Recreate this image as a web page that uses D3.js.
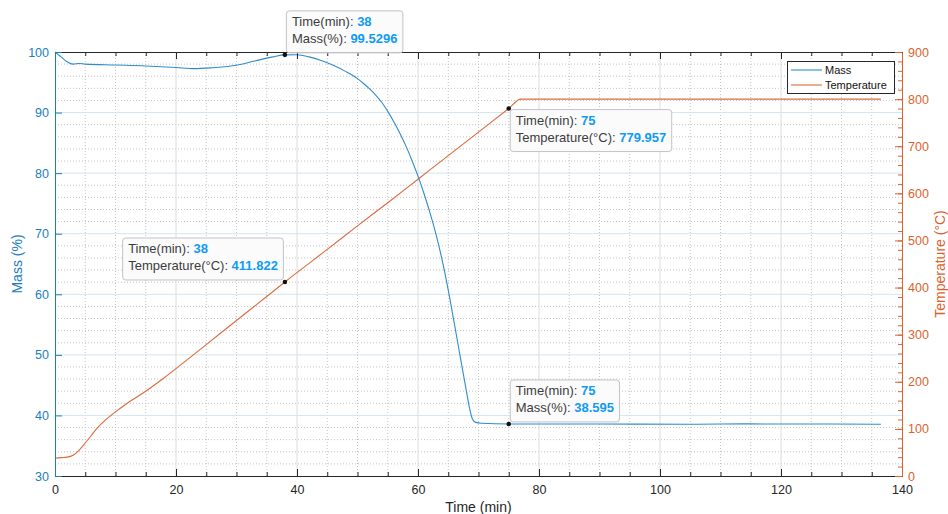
<!DOCTYPE html>
<html>
<head>
<meta charset="utf-8">
<script src="https://cdn.jsdelivr.net/npm/d3@7"></script>
<style>
body { margin: 0; background: #fff; }
svg { font-family: "Liberation Sans", Arial, Helvetica, sans-serif; }
</style>
</head>
<body>
<svg id="chart" width="948" height="514"></svg>
<script>

/* mass curve */
var mass_time = [0, 0.5, 1, 2, 3, 4, 5, 10, 15, 20, 23, 26, 30, 33, 36, 38, 40, 42, 44, 46, 48, 50, 51, 52, 53, 54, 55, 56, 57, 58, 59, 60, 61, 62, 63, 64, 65, 66, 67, 68, 68.5, 69, 69.5, 70.5, 75, 90, 105, 115, 136.5];
var mass_values = [100, 99.6, 99.2, 98.4, 98.0, 98.1, 98.0, 97.85, 97.7, 97.45, 97.25, 97.4, 97.8, 98.5, 99.2, 99.53, 99.55, 99.2, 98.6, 97.8, 96.8, 95.6, 94.8, 93.9, 92.9, 91.7, 90.2, 88.5, 86.6, 84.5, 82.1, 79.5, 76.6, 73.4, 69.8, 65.6, 60.7, 55.2, 49.6, 44.0, 41.3, 39.4, 38.85, 38.7, 38.595, 38.58, 38.55, 38.6, 38.55];

/* temperature curve */
var temp_time = [0, 1, 2, 3, 4, 5, 6, 7, 8, 9, 10, 12, 15, 18, 20, 25, 30, 35, 38, 45, 50, 55, 60, 65, 70, 75, 77, 136.5];
var temp_values = [38, 39, 40, 44, 55, 70, 86, 102, 115, 126, 136, 155, 180, 208, 228, 279, 330, 381, 411.822, 481, 531, 580, 630, 680, 730, 779.957, 800, 800];

var x_ticks = [0, 20, 40, 60, 80, 100, 120, 140];
var mass_ticks = [30, 40, 50, 60, 70, 80, 90, 100];
var temp_ticks = [0, 100, 200, 300, 400, 500, 600, 700, 800, 900];

var series_names = ["Mass", "Temperature"];

/* data tips */
var tip_series = ["Mass", "Temperature", "Temperature", "Mass"];
var tip_times = [38, 75, 38, 75];
var tip_values = ["99.5296", "779.957", "411.822", "38.595"];
var tip_labels = ["Mass(%)", "Temperature(°C)", "Temperature(°C)", "Mass(%)"];

var blue = "#1a7ec0";
var blue_line = "#2f8ccb";
var orange = "#db6330";
var orange_line = "#dd6a3c";
var axis_grey = "#262626";

var margin = {top: 52, right: 46, bottom: 38, left: 55};
var width = 948 - margin.left - margin.right;
var height = 514 - margin.top - margin.bottom;

var svg = d3.select("#chart")
	.append("g")
	.attr("transform", "translate(" + margin.left + "," + margin.top + ")");

var x = d3.scaleLinear().domain([0, 140]).range([0, width]);
var yL = d3.scaleLinear().domain([30, 100]).range([height, 0]);
var yR = d3.scaleLinear().domain([0, 900]).range([height, 0]);

/* grid: minor dotted first, then major */
var minor_x = d3.range(0, 141, 5).filter(function(d){ return d % 20 != 0; });
var minor_y = d3.range(30, 101, 2).filter(function(d){ return d % 10 != 0; });

svg.append("g").selectAll("line")
	.data(minor_x).enter().append("line")
	.attr("x1", function(d){ return x(d); }).attr("x2", function(d){ return x(d); })
	.attr("y1", 0).attr("y2", height)
	.attr("stroke", "#c4c4c4").attr("stroke-dasharray", "1,2");

svg.append("g").selectAll("line")
	.data(minor_y).enter().append("line")
	.attr("y1", function(d){ return yL(d); }).attr("y2", function(d){ return yL(d); })
	.attr("x1", 0).attr("x2", width)
	.attr("stroke", "#c4c4c4").attr("stroke-dasharray", "1,2");

svg.append("g").selectAll("line")
	.data(x_ticks.slice(1, -1)).enter().append("line")
	.attr("x1", function(d){ return x(d); }).attr("x2", function(d){ return x(d); })
	.attr("y1", 0).attr("y2", height)
	.attr("stroke", "#dcdcdc");

svg.append("g").selectAll("line")
	.data(mass_ticks.slice(1, -1)).enter().append("line")
	.attr("y1", function(d){ return yL(d); }).attr("y2", function(d){ return yL(d); })
	.attr("x1", 0).attr("x2", width)
	.attr("stroke", "#d3e5f2");

/* lines */
var mass_data = mass_time.map(function(t, i){ return {t: t, v: mass_values[i]}; });
var temp_data = temp_time.map(function(t, i){ return {t: t, v: temp_values[i]}; });

var massLine = d3.line()
	.x(function(d){ return x(d.t); })
	.y(function(d){ return yL(d.v); })
	.curve(d3.curveMonotoneX);

var tempLine = d3.line()
	.x(function(d){ return x(d.t); })
	.y(function(d){ return yR(d.v); })
	.curve(d3.curveMonotoneX);

svg.append("path").datum(temp_data)
	.attr("d", tempLine).attr("fill", "none")
	.attr("stroke", orange_line).attr("stroke-width", 1.1);

svg.append("path").datum(mass_data)
	.attr("d", massLine).attr("fill", "none")
	.attr("stroke", blue_line).attr("stroke-width", 1.1);

/* axes */
function styleAxis(g, color){
	g.selectAll("path.domain").attr("stroke", color);
	g.selectAll(".tick line").attr("stroke", color);
	g.selectAll("text").attr("fill", color).style("font-size", "12.5px")
		.style("font-family", "'Liberation Sans', Arial, sans-serif");
}

var minor_top = d3.range(0, 141, 5);
var minor_right = d3.range(0, 901, 20);

/* minor ticks */
svg.append("g").attr("transform", "translate(0," + height + ")")
	.call(d3.axisBottom(x).tickValues(minor_top).tickSizeInner(-4).tickSizeOuter(0).tickFormat(""))
	.call(styleAxis, axis_grey);
svg.append("g")
	.call(d3.axisTop(x).tickValues(minor_top).tickSizeInner(-4).tickSizeOuter(0).tickFormat(""))
	.call(styleAxis, axis_grey);
svg.append("g").attr("transform", "translate(" + width + ",0)")
	.call(d3.axisRight(yR).tickValues(minor_right).tickSizeInner(-4).tickSizeOuter(0).tickFormat(""))
	.call(styleAxis, orange);

/* major ticks */
svg.append("g").attr("transform", "translate(0," + height + ")")
	.call(d3.axisBottom(x).tickValues(x_ticks).tickSizeInner(-7).tickSizeOuter(0).tickPadding(9))
	.call(styleAxis, axis_grey);
svg.append("g")
	.call(d3.axisTop(x).tickValues(x_ticks).tickSizeInner(-7).tickSizeOuter(0).tickFormat(""))
	.call(styleAxis, axis_grey);
svg.append("g")
	.call(d3.axisLeft(yL).tickValues(mass_ticks).tickSizeInner(-7).tickSizeOuter(0).tickPadding(6))
	.call(styleAxis, blue);
svg.append("g").attr("transform", "translate(" + width + ",0)")
	.call(d3.axisRight(yR).tickValues(temp_ticks).tickSizeInner(-7).tickSizeOuter(0).tickPadding(6))
	.call(styleAxis, orange);

/* axis labels */
svg.append("text")
	.attr("transform", "rotate(-90)")
	.attr("x", -height / 2).attr("y", -33)
	.style("text-anchor", "middle").style("font-size", "14px")
	.attr("fill", blue).text("Mass (%)");

svg.append("text")
	.attr("transform", "rotate(-90)")
	.attr("x", -height / 2).attr("y", width + 43)
	.style("text-anchor", "middle").style("font-size", "14px")
	.attr("fill", orange).text("Temperature (°C)");

svg.append("text")
	.attr("x", width / 2).attr("y", height + 36)
	.style("text-anchor", "middle").style("font-size", "14px")
	.attr("fill", axis_grey).text("Time (min)");

/* legend */
var legend = svg.append("g").attr("transform", "translate(" + (width - 115) + ",9)");
legend.append("rect")
	.attr("x", 0.5).attr("y", 0.5).attr("width", 107).attr("height", 32)
	.attr("fill", "#fff").attr("stroke", axis_grey);
var legend_colors = [blue_line, orange_line];
series_names.forEach(function(name, i){
	legend.append("line")
		.attr("x1", 4).attr("x2", 35)
		.attr("y1", 9 + i * 15).attr("y2", 9 + i * 15)
		.attr("stroke", legend_colors[i]).attr("stroke-width", 1.1);
	legend.append("text")
		.attr("x", 38).attr("y", 13 + i * 15)
		.style("font-size", "11px").attr("fill", "#111")
		.text(name);
});

/* data tips: box corner sits on the point */
var tip_place = ["up-right", "down-right", "up-left", "up-right"];

tip_times.forEach(function(t, i){
	var is_mass = tip_series[i] == "Mass";
	var px = x(t);
	var py = is_mass ? yL(+tip_values[i]) : yR(+tip_values[i]);

	var g = svg.append("g");
	var box = g.append("rect");

	var t1 = g.append("text").style("font-size", "13px");
	t1.append("tspan").attr("fill", "#3c3c3c").text("Time(min): ");
	t1.append("tspan").attr("fill", "#0f9bf5").style("font-weight", "bold").text(t);

	var t2 = g.append("text").style("font-size", "13px");
	t2.append("tspan").attr("fill", "#3c3c3c").text(tip_labels[i] + ": ");
	t2.append("tspan").attr("fill", "#0f9bf5").style("font-weight", "bold").text(tip_values[i]);

	var w = Math.max(t1.node().getComputedTextLength(), t2.node().getComputedTextLength()) + 11;
	var h = 42;

	var bx = tip_place[i].indexOf("right") >= 0 ? px + 1.5 : px - 1.5 - w;
	var by = tip_place[i].indexOf("up") >= 0 ? py - 2 - h : py + 1;

	box.attr("x", bx).attr("y", by).attr("width", w).attr("height", h)
		.attr("rx", 3).attr("fill", "#fbfbfc").attr("fill-opacity", 0.95)
		.attr("stroke", "#c3c3c8");
	t1.attr("x", bx + 5.5).attr("y", by + 15.5);
	t2.attr("x", bx + 5.5).attr("y", by + 32.5);

	g.append("circle").attr("cx", px).attr("cy", py).attr("r", 2.3).attr("fill", "#111");
});

</script>
</body>
</html>
